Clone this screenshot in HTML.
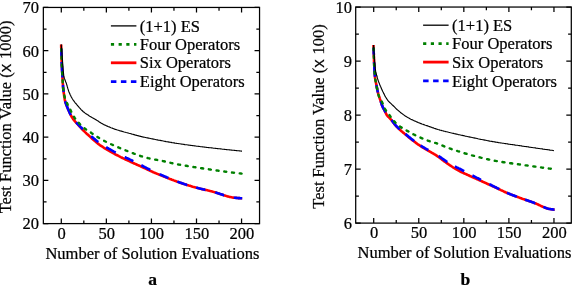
<!DOCTYPE html>
<html><head><meta charset="utf-8"><title>Figure</title>
<style>
html,body{margin:0;padding:0;background:#fff;}
svg{display:block;will-change:transform;font-family:"Liberation Serif",serif;font-size:16.5px;fill:#000;}
text{stroke:#000;stroke-width:0.22px;}
</style></head>
<body>
<svg width="572" height="289" viewBox="0 0 572 289">
<rect width="572" height="289" fill="#fff"/>
<g>
<rect x="43.35" y="7.45" width="216.20" height="216.15" fill="none" stroke="#000" stroke-width="1.25"/>
<text x="39.1" y="229.4" text-anchor="end">20</text>
<text x="39.1" y="186.2" text-anchor="end">30</text>
<text x="39.1" y="142.9" text-anchor="end">40</text>
<text x="39.1" y="99.7" text-anchor="end">50</text>
<text x="39.1" y="56.5" text-anchor="end">60</text>
<text x="39.1" y="13.2" text-anchor="end">70</text>
<path d="M61.30,223.6v-5M61.30,7.45v5M83.83,223.6v-3.2M83.83,7.45v3.2M106.36,223.6v-5M106.36,7.45v5M128.90,223.6v-3.2M128.90,7.45v3.2M151.43,223.6v-5M151.43,7.45v5M173.96,223.6v-3.2M173.96,7.45v3.2M196.50,223.6v-5M196.50,7.45v5M219.03,223.6v-3.2M219.03,7.45v3.2M241.56,223.6v-5M241.56,7.45v5M43.35,223.60h5M259.55,223.60h-5M43.35,201.98h3.2M259.55,201.98h-3.2M43.35,180.37h5M259.55,180.37h-5M43.35,158.75h3.2M259.55,158.75h-3.2M43.35,137.14h5M259.55,137.14h-5M43.35,115.52h3.2M259.55,115.52h-3.2M43.35,93.91h5M259.55,93.91h-5M43.35,72.29h3.2M259.55,72.29h-3.2M43.35,50.68h5M259.55,50.68h-5M43.35,29.06h3.2M259.55,29.06h-3.2M43.35,7.45h5M259.55,7.45h-5" stroke="#000" stroke-width="1.25" fill="none"/>
<text x="61.6" y="238.5" text-anchor="middle">0</text>
<text x="106.7" y="238.5" text-anchor="middle">50</text>
<text x="151.7" y="238.5" text-anchor="middle">100</text>
<text x="196.8" y="238.5" text-anchor="middle">150</text>
<text x="241.9" y="238.5" text-anchor="middle">200</text>
<text x="152.4" y="258.8" text-anchor="middle">Number of Solution Evaluations</text>
<text x="152.6" y="284.5" text-anchor="middle" font-weight="bold" font-size="17.5">a</text>
<text transform="translate(10.9,116.9) rotate(-90)" text-anchor="middle">Test Function Value (<tspan font-family="Liberation Sans, sans-serif" font-size="17">x </tspan>1000)</text>
<path d="M61.2,44.4 L61.2,45.4 L61.2,46.4 L61.2,47.4 L61.3,48.4 L61.3,49.4 L61.3,50.4 L61.3,51.4 L61.4,52.4 L61.4,53.4 L61.4,54.4 L61.5,55.4 L61.5,56.4 L61.5,57.4 L61.5,58.4 L61.6,59.4 L61.6,60.4 L61.7,61.4 L61.7,62.4 L61.7,63.4 L61.8,64.4 L61.8,65.4 L61.9,66.4 L61.9,67.4 L62.0,68.4 L62.0,69.4 L62.1,70.4 L62.1,71.4 L62.2,72.4 L62.3,73.4 L62.3,74.4 L62.4,75.4 L62.4,76.4 L62.5,77.4 L62.5,78.4 L62.6,79.4 L62.6,80.4 L62.7,81.4 L62.7,82.4 L62.8,83.4 L62.9,84.4 L63.0,85.4 L63.0,86.4 L63.1,87.4 L63.2,88.3 L63.3,89.3 L63.4,90.3 L63.6,91.3 L63.7,92.3 L63.8,93.3 L64.0,94.3 L64.1,95.3 L64.2,96.3 L64.4,97.3 L64.6,98.3 L64.7,99.2 L64.9,100.2 L65.1,101.2 L65.4,102.2 L65.7,103.1 L66.1,104.1 L66.4,105.0 L66.8,105.9 L67.1,106.9 L67.5,107.8 L67.9,108.7 L68.3,109.6 L68.7,110.5 L69.1,111.5 L69.5,112.4 L69.9,113.3 L70.3,114.2 L70.8,115.1 L71.3,116.0 L71.7,116.8 L72.3,117.7 L72.8,118.6 L73.4,119.4 L74.0,120.2 L74.6,120.9 L75.2,121.7 L75.9,122.4 L76.6,123.2 L77.3,123.9 L78.0,124.6 L78.6,125.4 L79.3,126.1 L80.0,126.9 L80.7,127.6 L81.3,128.3 L82.0,129.1 L82.7,129.8 L83.4,130.5 L84.1,131.2 L84.8,131.9 L85.6,132.6 L86.3,133.3 L87.0,134.0 L87.8,134.6 L88.5,135.3 L89.3,136.0 L90.0,136.6 L90.7,137.3 L91.5,138.0 L92.2,138.7 L93.0,139.4 L93.7,140.0 L94.5,140.7 L95.2,141.3 L96.0,142.0 L96.8,142.6 L97.5,143.3 L98.3,143.9 L99.1,144.5 L99.9,145.1 L100.7,145.6 L101.5,146.2 L102.4,146.7 L103.2,147.3 L104.0,147.8 L104.9,148.4 L105.7,148.9 L106.6,149.4 L107.4,149.9 L108.3,150.4 L109.2,150.9 L110.0,151.4 L110.9,151.9 L111.8,152.4 L112.7,152.9 L113.6,153.4 L114.5,153.8 L115.3,154.3 L116.2,154.8 L117.1,155.2 L118.0,155.7 L118.9,156.2 L119.8,156.6 L120.7,157.1 L121.6,157.5 L122.5,158.0 L123.4,158.4 L124.3,158.8 L125.2,159.3 L126.1,159.7 L127.0,160.1 L127.9,160.5 L128.8,160.9 L129.7,161.4 L130.6,161.8 L131.5,162.2 L132.4,162.6 L133.3,163.0 L134.3,163.5 L135.2,163.9 L136.1,164.3 L137.0,164.7 L137.9,165.1 L138.8,165.5 L139.7,165.9 L140.6,166.3 L141.5,166.7 L142.5,167.2 L143.4,167.6 L144.3,168.0 L145.2,168.4 L146.1,168.9 L147.0,169.3 L147.9,169.7 L148.8,170.1 L149.7,170.6 L150.6,171.0 L151.5,171.4 L152.4,171.8 L153.3,172.2 L154.3,172.6 L155.2,173.0 L156.1,173.4 L157.0,173.8 L158.0,174.1 L158.9,174.5 L159.8,174.9 L160.7,175.3 L161.7,175.6 L162.6,176.0 L163.5,176.4 L164.4,176.8 L165.4,177.1 L166.3,177.5 L167.2,177.9 L168.2,178.2 L169.1,178.6 L170.0,179.0 L171.0,179.3 L171.9,179.7 L172.9,180.0 L173.8,180.4 L174.7,180.7 L175.7,181.1 L176.6,181.4 L177.6,181.7 L178.5,182.1 L179.4,182.4 L180.4,182.7 L181.3,183.1 L182.3,183.4 L183.2,183.7 L184.2,184.0 L185.1,184.3 L186.1,184.6 L187.0,184.9 L188.0,185.2 L188.9,185.5 L189.9,185.8 L190.8,186.1 L191.8,186.4 L192.8,186.7 L193.7,186.9 L194.7,187.2 L195.6,187.5 L196.6,187.7 L197.6,188.0 L198.6,188.2 L199.5,188.4 L200.5,188.7 L201.5,188.9 L202.4,189.2 L203.4,189.4 L204.4,189.6 L205.4,189.9 L206.3,190.1 L207.3,190.3 L208.3,190.6 L209.3,190.8 L210.2,191.1 L211.2,191.3 L212.2,191.5 L213.1,191.8 L214.1,192.1 L215.1,192.3 L216.0,192.6 L217.0,192.9 L217.9,193.2 L218.9,193.5 L219.9,193.9 L220.8,194.2 L221.8,194.5 L222.7,194.8 L223.7,195.2 L224.7,195.5 L225.6,195.8 L226.6,196.1 L227.5,196.4 L228.5,196.6 L229.5,196.9 L230.4,197.1 L231.4,197.3 L232.4,197.5 L233.3,197.6 L234.3,197.7 L235.3,197.8 L236.3,197.9 L237.3,198.0 L238.3,198.1 L239.3,198.1 L240.3,198.2 L241.3,198.2 L242.2,198.2" fill="none" stroke="#ff0000" stroke-width="2.6"/>
<path d="M61.3,48.7 L61.3,49.1 L61.3,49.6 L61.3,50.1 L61.3,50.6 L61.3,51.1 L61.3,51.6 L61.4,52.1 L61.4,52.6 L61.4,53.1 L61.4,53.6 L61.4,54.1 L61.4,54.6 L61.4,55.1 L61.5,55.6 L61.5,56.1 L61.5,56.6 M61.7,62.1 L61.7,62.6 L61.7,63.1 L61.7,63.6 L61.8,64.1 L61.8,64.6 L61.8,65.1 L61.8,65.6 L61.9,66.1 L61.9,66.6 L61.9,67.1 L61.9,67.6 L62.0,68.1 L62.0,68.6 L62.0,69.1 L62.0,69.6 L62.1,70.1 L62.1,70.6 L62.1,71.1 L62.2,71.6 L62.2,72.1 L62.2,72.6 L62.2,73.1 L62.3,73.6 L62.3,74.1 L62.3,74.6 L62.4,75.1 L62.4,75.6 L62.4,76.1 L62.4,76.6 L62.5,77.1 L62.5,77.6 M62.9,85.1 L63.0,85.6 L63.0,86.1 L63.1,86.6 L63.1,87.1 L63.1,87.6 L63.2,88.1 L63.2,88.6 L63.3,89.1 L63.3,89.6 L63.4,90.1 L63.5,90.6 L63.5,91.1 L63.6,91.6 L63.7,92.1 M65.1,101.2 L65.3,101.7 L65.4,102.2 L65.6,102.6 L65.7,103.1 L65.9,103.6 L66.1,104.1 L66.2,104.5 L66.4,105.0 L66.6,105.5 L66.8,105.9 L67.0,106.4 L67.1,106.9 L67.3,107.3 L67.5,107.8 L67.7,108.2 L67.9,108.7 L68.1,109.2 L68.3,109.6 L68.5,110.1 L68.7,110.5 L68.9,111.0 L69.1,111.5 L69.3,111.9 L69.5,112.4 L69.7,112.8 L69.9,113.3 L70.1,113.7 L70.3,114.2 L70.6,114.6 L70.8,115.1 M76.1,122.4 L76.4,122.7 L76.8,123.1 L77.1,123.4 L77.4,123.8 L77.8,124.1 L78.1,124.4 L78.5,124.8 L78.8,125.1 L79.2,125.5 L79.5,125.8 L79.8,126.2 L80.2,126.5 L80.5,126.9 L80.8,127.2 L81.2,127.5 L81.5,127.9 L81.9,128.2 L82.2,128.6 L82.5,128.9 L82.9,129.2 M91.1,136.2 L91.5,136.5 L91.9,136.8 L92.2,137.1 L92.6,137.4 L93.0,137.7 L93.3,138.0 L93.7,138.3 L94.1,138.7 L94.5,139.0 L94.9,139.3 L95.2,139.6 L95.6,139.9 L96.0,140.3 L96.4,140.6 L96.8,140.9 L97.1,141.2 L97.5,141.5 L97.9,141.8 L98.3,142.1 M106.1,147.2 L106.6,147.5 L107.0,147.7 L107.4,148.0 L107.9,148.2 L108.3,148.5 L108.7,148.7 L109.2,148.9 L109.6,149.2 L110.0,149.4 L110.5,149.7 L110.9,149.9 L111.4,150.2 L111.8,150.4 L112.2,150.6 L112.7,150.9 L113.1,151.1 L113.6,151.4 L114.0,151.6 L114.5,151.8 L114.9,152.1 L115.3,152.3 L115.8,152.5 M124.7,157.1 L125.2,157.3 L125.6,157.5 L126.1,157.7 L126.5,157.9 L127.0,158.1 L127.4,158.3 L127.9,158.5 L128.3,158.7 L128.8,158.9 L129.3,159.2 L129.7,159.4 L130.2,159.6 L130.6,159.8 L131.1,160.1 L131.5,160.3 L132.0,160.5 L132.4,160.8 L132.9,161.0 L133.3,161.2 M141.3,165.3 L141.8,165.5 L142.2,165.7 L142.7,166.0 L143.1,166.2 L143.6,166.5 L144.0,166.7 L144.5,166.9 L144.9,167.2 L145.4,167.4 L145.9,167.6 L146.3,167.9 L146.8,168.1 L147.2,168.3 L147.7,168.6 L148.1,168.8 L148.6,169.0 L149.0,169.2 L149.5,169.5 L149.9,169.7 L150.4,169.9 M159.6,174.2 L160.0,174.4 L160.5,174.6 L161.0,174.8 L161.4,175.0 L161.9,175.2 L162.4,175.4 L162.8,175.6 L163.3,175.8 L163.7,176.0 L164.2,176.2 L164.7,176.4 L165.1,176.6 L165.6,176.8 L166.1,177.0 L166.5,177.2 L167.0,177.4 L167.5,177.6 L167.9,177.8 L168.4,178.0 M177.3,181.6 L177.8,181.8 L178.3,181.9 L178.7,182.1 L179.2,182.3 L179.7,182.5 L180.2,182.7 L180.6,182.8 L181.1,183.0 L181.6,183.1 L182.0,183.3 L182.5,183.5 L183.0,183.6 L183.5,183.8 L183.9,183.9 L184.4,184.1 L184.9,184.3 L185.4,184.4 L185.8,184.6 L186.3,184.7 L186.8,184.9 L187.3,185.0 M196.1,187.6 L196.6,187.7 L197.1,187.8 L197.6,188.0 L198.1,188.1 L198.6,188.2 L199.0,188.3 L199.5,188.4 L200.0,188.6 L200.5,188.7 L201.0,188.8 L201.5,188.9 L202.0,189.0 L202.4,189.2 L202.9,189.3 L203.4,189.4 L203.9,189.5 L204.4,189.6 L204.9,189.8 L205.4,189.9 M215.1,192.3 L215.5,192.5 L216.0,192.6 L216.5,192.8 L217.0,192.9 L217.5,193.1 L217.9,193.2 L218.4,193.4 L218.9,193.5 L219.4,193.7 L219.9,193.9 L220.3,194.0 L220.8,194.2 L221.3,194.3 L221.8,194.5 L222.3,194.7 L222.7,194.8 L223.2,195.0 L223.7,195.2 L224.2,195.3 M233.8,197.7 L234.3,197.7 L234.8,197.8 L235.3,197.8 L235.8,197.9 L236.3,197.9 L236.8,198.0 L237.3,198.0 L237.8,198.0 L238.3,198.1 L238.8,198.1 L239.3,198.1 L239.8,198.1 L240.3,198.2 L240.8,198.2 L241.3,198.2 L241.8,198.2 L242.2,198.2" fill="none" stroke="#0000ff" stroke-width="2.6"/>
<path d="M61.2,44.4 L61.2,45.4 L61.2,46.4 L61.2,47.4 L61.3,48.4 L61.3,49.4 L61.3,50.4 L61.3,51.4 L61.4,52.4 L61.4,53.4 L61.4,54.4 L61.5,55.4 L61.5,56.4 L61.5,57.4 L61.5,58.4 L61.6,59.4 L61.6,60.4 L61.7,61.4 L61.7,62.4 L61.7,63.4 L61.8,64.4 L61.8,65.4 L61.9,66.4 L61.9,67.4 L62.0,68.4 L62.0,69.4 L62.1,70.4 L62.1,71.4 L62.2,72.4 L62.3,73.4 L62.3,74.4 L62.4,75.4 L62.4,76.4 L62.5,77.4 L62.5,78.4 L62.6,79.4 L62.6,80.4 L62.7,81.4 L62.7,82.4 L62.8,83.4 L62.9,84.4 L62.9,85.4 L63.0,86.4 L63.1,87.4 L63.2,88.3 L63.3,89.3 L63.5,90.3 L63.6,91.3 L63.7,92.3 L63.9,93.3 L64.1,94.3 L64.3,95.3 L64.5,96.3 L64.7,97.2 L65.0,98.2 L65.4,99.1 L65.7,100.1 L66.1,101.0 L66.5,101.9 L66.9,102.8 L67.3,103.7 L67.7,104.6 L68.2,105.5 L68.7,106.4 L69.1,107.3 L69.6,108.2 L70.0,109.1 L70.5,110.0 L70.9,110.9 L71.3,111.8 L71.8,112.7 L72.2,113.6 L72.7,114.5 L73.1,115.4 L73.6,116.2 L74.2,117.1 L74.7,117.9 L75.3,118.7 L75.9,119.5 L76.5,120.3 L77.2,121.1 L77.8,121.8 L78.5,122.6 L79.2,123.3 L79.8,124.0 L80.5,124.8 L81.3,125.5 L82.0,126.2 L82.7,126.8 L83.5,127.5 L84.3,128.1 L85.0,128.7 L85.8,129.3 L86.7,129.9 L87.5,130.4 L88.3,131.0 L89.2,131.5 L90.0,132.1 L90.9,132.6 L91.7,133.2 L92.5,133.7 L93.4,134.3 L94.2,134.8 L95.0,135.4 L95.9,135.9 L96.7,136.5 L97.6,137.0 L98.4,137.6 L99.3,138.1 L100.1,138.6 L101.0,139.1 L101.9,139.6 L102.7,140.1 L103.6,140.6 L104.5,141.0 L105.4,141.5 L106.3,141.9 L107.1,142.4 L108.0,142.8 L108.9,143.2 L109.8,143.7 L110.8,144.1 L111.7,144.5 L112.6,144.9 L113.5,145.3 L114.4,145.7 L115.3,146.1 L116.3,146.5 L117.2,146.9 L118.1,147.3 L119.0,147.7 L120.0,148.1 L120.9,148.4 L121.8,148.8 L122.7,149.2 L123.7,149.6 L124.6,149.9 L125.5,150.3 L126.5,150.7 L127.4,151.0 L128.3,151.4 L129.3,151.8 L130.2,152.1 L131.1,152.5 L132.1,152.9 L133.0,153.2 L133.9,153.6 L134.9,153.9 L135.8,154.3 L136.8,154.6 L137.7,155.0 L138.6,155.3 L139.6,155.6 L140.5,156.0 L141.5,156.3 L142.4,156.6 L143.4,156.9 L144.3,157.2 L145.3,157.4 L146.3,157.7 L147.2,157.9 L148.2,158.2 L149.2,158.4 L150.1,158.6 L151.1,158.8 L152.1,159.0 L153.1,159.2 L154.1,159.4 L155.0,159.6 L156.0,159.7 L157.0,159.9 L158.0,160.1 L159.0,160.3 L160.0,160.5 L161.0,160.7 L161.9,160.9 L162.9,161.1 L163.9,161.3 L164.9,161.5 L165.8,161.8 L166.8,162.0 L167.8,162.3 L168.7,162.5 L169.7,162.7 L170.7,162.9 L171.7,163.1 L172.7,163.3 L173.6,163.5 L174.6,163.7 L175.6,163.9 L176.6,164.1 L177.6,164.3 L178.5,164.5 L179.5,164.6 L180.5,164.8 L181.5,165.0 L182.5,165.2 L183.5,165.3 L184.5,165.5 L185.4,165.7 L186.4,165.8 L187.4,166.0 L188.4,166.2 L189.4,166.3 L190.4,166.5 L191.4,166.7 L192.4,166.8 L193.3,167.0 L194.3,167.1 L195.3,167.3 L196.3,167.4 L197.3,167.6 L198.3,167.7 L199.3,167.9 L200.3,168.0 L201.2,168.2 L202.2,168.3 L203.2,168.5 L204.2,168.6 L205.2,168.8 L206.2,168.9 L207.2,169.1 L208.2,169.2 L209.2,169.4 L210.1,169.5 L211.1,169.6 L212.1,169.8 L213.1,169.9 L214.1,170.1 L215.1,170.2 L216.1,170.4 L217.1,170.5 L218.1,170.6 L219.1,170.8 L220.0,170.9 L221.0,171.0 L222.0,171.2 L223.0,171.3 L224.0,171.4 L225.0,171.6 L226.0,171.7 L227.0,171.8 L228.0,171.9 L229.0,172.1 L230.0,172.2 L231.0,172.3 L231.9,172.5 L232.9,172.6 L233.9,172.7 L234.9,172.8 L235.9,172.9 L236.9,173.1 L237.9,173.2 L238.9,173.3 L239.9,173.4 L240.9,173.5 L241.6,173.6" fill="none" stroke="#008000" stroke-width="2.4" stroke-linecap="round" stroke-dasharray="2.1 5.7" stroke-dashoffset="3.25"/>
<path d="M61.2,44.4 L61.3,45.4 L61.4,46.4 L61.5,47.4 L61.5,48.4 L61.6,49.4 L61.7,50.4 L61.8,51.4 L61.9,52.4 L62.0,53.4 L62.0,54.4 L62.1,55.4 L62.2,56.4 L62.2,57.4 L62.3,58.4 L62.4,59.4 L62.5,60.4 L62.5,61.3 L62.6,62.3 L62.7,63.3 L62.7,64.3 L62.8,65.3 L62.9,66.3 L63.0,67.3 L63.0,68.3 L63.1,69.3 L63.2,70.4 L63.3,71.4 L63.4,72.4 L63.5,73.3 L63.6,74.3 L63.7,75.3 L63.8,76.3 L64.1,77.2 L64.3,78.2 L64.7,79.1 L65.0,80.1 L65.4,81.0 L65.8,82.0 L66.2,82.9 L66.5,83.8 L66.8,84.8 L67.1,85.8 L67.3,86.7 L67.6,87.7 L67.9,88.7 L68.2,89.6 L68.5,90.6 L68.8,91.5 L69.2,92.4 L69.6,93.3 L70.0,94.3 L70.4,95.2 L70.9,96.1 L71.3,97.0 L71.8,97.8 L72.3,98.7 L72.8,99.5 L73.4,100.4 L74.0,101.2 L74.6,102.0 L75.2,102.8 L75.9,103.5 L76.5,104.3 L77.2,105.1 L77.8,105.8 L78.5,106.6 L79.1,107.4 L79.8,108.1 L80.5,108.9 L81.1,109.6 L81.8,110.3 L82.6,111.0 L83.3,111.7 L84.1,112.3 L84.8,112.9 L85.6,113.5 L86.4,114.0 L87.3,114.6 L88.1,115.1 L89.0,115.7 L89.8,116.2 L90.7,116.7 L91.6,117.2 L92.4,117.7 L93.3,118.2 L94.2,118.7 L95.1,119.2 L95.9,119.7 L96.8,120.3 L97.6,120.8 L98.5,121.3 L99.3,121.9 L100.2,122.4 L101.0,122.9 L101.9,123.4 L102.8,123.9 L103.6,124.4 L104.5,124.9 L105.4,125.3 L106.3,125.7 L107.2,126.1 L108.1,126.5 L109.1,126.9 L110.0,127.3 L110.9,127.7 L111.9,128.0 L112.8,128.4 L113.7,128.7 L114.7,129.1 L115.6,129.4 L116.6,129.7 L117.5,130.0 L118.5,130.3 L119.4,130.6 L120.4,130.9 L121.4,131.1 L122.3,131.4 L123.3,131.7 L124.2,132.0 L125.2,132.2 L126.2,132.5 L127.1,132.7 L128.1,133.0 L129.1,133.3 L130.0,133.5 L131.0,133.8 L132.0,134.1 L132.9,134.3 L133.9,134.6 L134.9,134.9 L135.8,135.1 L136.8,135.4 L137.8,135.6 L138.7,135.9 L139.7,136.1 L140.7,136.4 L141.6,136.6 L142.6,136.9 L143.6,137.1 L144.5,137.3 L145.5,137.5 L146.5,137.7 L147.5,137.9 L148.5,138.1 L149.4,138.3 L150.4,138.5 L151.4,138.7 L152.4,138.9 L153.4,139.1 L154.4,139.3 L155.3,139.5 L156.3,139.7 L157.3,139.9 L158.3,140.1 L159.3,140.2 L160.2,140.4 L161.2,140.6 L162.2,140.8 L163.2,141.0 L164.2,141.2 L165.1,141.4 L166.1,141.6 L167.1,141.7 L168.1,141.9 L169.1,142.1 L170.1,142.3 L171.1,142.4 L172.0,142.6 L173.0,142.7 L174.0,142.9 L175.0,143.1 L176.0,143.2 L177.0,143.4 L178.0,143.5 L179.0,143.7 L179.9,143.8 L180.9,144.0 L181.9,144.1 L182.9,144.3 L183.9,144.4 L184.9,144.6 L185.9,144.7 L186.9,144.8 L187.9,145.0 L188.9,145.1 L189.8,145.3 L190.8,145.4 L191.8,145.5 L192.8,145.6 L193.8,145.8 L194.8,145.9 L195.8,146.0 L196.8,146.2 L197.8,146.3 L198.8,146.4 L199.8,146.5 L200.8,146.7 L201.7,146.8 L202.7,146.9 L203.7,147.0 L204.7,147.1 L205.7,147.2 L206.7,147.4 L207.7,147.5 L208.7,147.6 L209.7,147.7 L210.7,147.8 L211.7,147.9 L212.7,148.0 L213.7,148.2 L214.7,148.3 L215.7,148.4 L216.6,148.5 L217.6,148.6 L218.6,148.7 L219.6,148.8 L220.6,148.9 L221.6,149.0 L222.6,149.2 L223.6,149.3 L224.6,149.4 L225.6,149.5 L226.6,149.6 L227.6,149.7 L228.6,149.8 L229.6,149.9 L230.6,150.0 L231.6,150.1 L232.6,150.2 L233.6,150.3 L234.5,150.4 L235.5,150.5 L236.5,150.6 L237.5,150.7 L238.5,150.8 L239.5,150.9 L240.5,151.0 L241.5,151.1 L242.0,151.1" fill="none" stroke="#000" stroke-width="1.15"/>
<path d="M110.9,25.9H136.4" stroke="#000" stroke-width="1.3"/>
<path d="M110.9,44.4H136.4" stroke="#008000" stroke-width="2.8" stroke-dasharray="3.2 4.5"/>
<path d="M110.9,62.8H136.4" stroke="#ff0000" stroke-width="2.8"/>
<path d="M110.9,81.6H136.4" stroke="#0000ff" stroke-width="2.8" stroke-dasharray="5.5 4.5"/>
<text x="139.8" y="31.5">(1+1) ES</text>
<text x="139.8" y="50.0">Four Operators</text>
<text x="139.8" y="68.4">Six Operators</text>
<text x="139.8" y="87.2">Eight Operators</text>
</g>
<g>
<rect x="355.7" y="7.05" width="215.60" height="216.05" fill="none" stroke="#000" stroke-width="1.25"/>
<text x="352.0" y="228.9" text-anchor="end">6</text>
<text x="352.0" y="174.9" text-anchor="end">7</text>
<text x="352.0" y="120.9" text-anchor="end">8</text>
<text x="352.0" y="66.9" text-anchor="end">9</text>
<text x="352.0" y="12.9" text-anchor="end">10</text>
<path d="M373.70,223.1v-5M373.70,7.05v5M396.23,223.1v-3.2M396.23,7.05v3.2M418.76,223.1v-5M418.76,7.05v5M441.30,223.1v-3.2M441.30,7.05v3.2M463.83,223.1v-5M463.83,7.05v5M486.36,223.1v-3.2M486.36,7.05v3.2M508.89,223.1v-5M508.89,7.05v5M531.43,223.1v-3.2M531.43,7.05v3.2M553.96,223.1v-5M553.96,7.05v5M355.7,223.10h5M571.3,223.10h-5M355.7,196.09h3.2M571.3,196.09h-3.2M355.7,169.09h5M571.3,169.09h-5M355.7,142.08h3.2M571.3,142.08h-3.2M355.7,115.08h5M571.3,115.08h-5M355.7,88.07h3.2M571.3,88.07h-3.2M355.7,61.06h5M571.3,61.06h-5M355.7,34.06h3.2M571.3,34.06h-3.2M355.7,7.05h5M571.3,7.05h-5" stroke="#000" stroke-width="1.25" fill="none"/>
<text x="374.0" y="237.6" text-anchor="middle">0</text>
<text x="419.1" y="237.6" text-anchor="middle">50</text>
<text x="464.1" y="237.6" text-anchor="middle">100</text>
<text x="509.2" y="237.6" text-anchor="middle">150</text>
<text x="554.3" y="237.6" text-anchor="middle">200</text>
<text x="464.5" y="257.9" text-anchor="middle">Number of Solution Evaluations</text>
<text x="465.4" y="284.5" text-anchor="middle" font-weight="bold" font-size="17.5">b</text>
<text transform="translate(324.1,116.5) rotate(-90)" text-anchor="middle">Test Function Value (<tspan font-family="Liberation Sans, sans-serif" font-size="17">x </tspan>100)</text>
<path d="M373.5,45.0 L373.5,46.0 L373.5,47.0 L373.6,48.0 L373.6,49.0 L373.6,50.0 L373.7,51.0 L373.7,52.0 L373.7,53.0 L373.8,54.0 L373.8,55.0 L373.8,56.0 L373.9,57.0 L373.9,58.0 L374.0,59.0 L374.0,60.0 L374.0,61.0 L374.1,62.0 L374.1,63.0 L374.2,64.0 L374.2,65.0 L374.3,66.0 L374.3,67.0 L374.4,68.0 L374.4,69.0 L374.5,70.0 L374.5,71.0 L374.6,72.0 L374.7,73.0 L374.7,74.0 L374.8,75.0 L374.9,76.0 L375.0,77.0 L375.1,78.0 L375.2,78.9 L375.4,79.9 L375.6,80.9 L375.8,81.9 L376.0,82.9 L376.2,83.9 L376.4,84.8 L376.6,85.8 L376.7,86.8 L376.9,87.8 L377.1,88.8 L377.3,89.8 L377.5,90.7 L377.7,91.7 L378.0,92.7 L378.2,93.6 L378.5,94.6 L378.8,95.5 L379.1,96.5 L379.4,97.5 L379.7,98.4 L380.1,99.4 L380.4,100.3 L380.7,101.3 L381.0,102.2 L381.3,103.2 L381.6,104.1 L381.9,105.1 L382.3,106.0 L382.7,106.9 L383.1,107.8 L383.6,108.7 L384.1,109.6 L384.5,110.5 L385.0,111.4 L385.4,112.3 L385.8,113.2 L386.3,114.1 L386.8,115.0 L387.3,115.8 L388.0,116.5 L388.7,117.2 L389.4,117.9 L390.1,118.6 L390.8,119.4 L391.5,120.1 L392.1,120.9 L392.7,121.7 L393.3,122.5 L393.9,123.3 L394.5,124.1 L395.1,124.9 L395.8,125.6 L396.4,126.4 L397.1,127.1 L397.8,127.8 L398.6,128.5 L399.3,129.2 L400.0,129.9 L400.8,130.5 L401.5,131.2 L402.3,131.8 L403.0,132.5 L403.8,133.1 L404.6,133.8 L405.4,134.4 L406.1,135.0 L406.9,135.7 L407.7,136.3 L408.4,137.0 L409.2,137.6 L410.0,138.2 L410.8,138.9 L411.5,139.5 L412.3,140.1 L413.1,140.7 L413.9,141.3 L414.7,141.9 L415.5,142.5 L416.3,143.1 L417.1,143.7 L417.9,144.3 L418.8,144.8 L419.6,145.4 L420.4,146.0 L421.3,146.5 L422.1,147.1 L422.9,147.6 L423.8,148.1 L424.7,148.6 L425.5,149.1 L426.4,149.6 L427.3,150.1 L428.1,150.6 L429.0,151.1 L429.9,151.6 L430.8,152.1 L431.6,152.6 L432.5,153.1 L433.4,153.6 L434.2,154.1 L435.1,154.6 L435.9,155.1 L436.7,155.7 L437.6,156.3 L438.4,156.8 L439.2,157.4 L440.0,158.0 L440.8,158.6 L441.6,159.2 L442.4,159.9 L443.2,160.5 L444.0,161.1 L444.8,161.7 L445.6,162.3 L446.4,162.8 L447.2,163.4 L448.0,164.0 L448.9,164.5 L449.7,165.1 L450.5,165.6 L451.4,166.2 L452.2,166.8 L453.0,167.3 L453.9,167.8 L454.7,168.4 L455.6,168.9 L456.4,169.4 L457.3,169.9 L458.2,170.4 L459.1,170.9 L459.9,171.3 L460.8,171.8 L461.7,172.2 L462.6,172.6 L463.5,173.0 L464.5,173.5 L465.4,173.9 L466.3,174.3 L467.2,174.7 L468.1,175.1 L469.0,175.5 L469.9,176.0 L470.8,176.4 L471.7,176.8 L472.7,177.2 L473.6,177.6 L474.5,178.0 L475.4,178.4 L476.3,178.8 L477.2,179.2 L478.1,179.7 L479.0,180.1 L480.0,180.5 L480.9,180.9 L481.8,181.3 L482.7,181.7 L483.6,182.1 L484.5,182.5 L485.4,182.9 L486.3,183.3 L487.3,183.8 L488.2,184.2 L489.1,184.6 L490.0,185.0 L490.9,185.4 L491.8,185.8 L492.7,186.2 L493.6,186.6 L494.5,187.0 L495.4,187.5 L496.4,187.9 L497.3,188.3 L498.2,188.8 L499.1,189.2 L500.0,189.6 L500.9,190.1 L501.8,190.5 L502.7,190.9 L503.6,191.3 L504.5,191.8 L505.4,192.2 L506.3,192.6 L507.2,193.0 L508.1,193.4 L509.1,193.7 L510.0,194.1 L510.9,194.5 L511.9,194.8 L512.8,195.2 L513.7,195.6 L514.7,195.9 L515.6,196.3 L516.5,196.6 L517.5,196.9 L518.4,197.3 L519.4,197.6 L520.3,198.0 L521.2,198.3 L522.2,198.7 L523.1,199.0 L524.1,199.3 L525.0,199.7 L526.0,200.0 L526.9,200.3 L527.8,200.6 L528.8,201.0 L529.7,201.3 L530.7,201.6 L531.6,201.9 L532.6,202.3 L533.5,202.6 L534.4,203.0 L535.4,203.3 L536.3,203.7 L537.2,204.1 L538.1,204.5 L539.0,205.0 L539.9,205.4 L540.8,205.8 L541.7,206.3 L542.7,206.7 L543.6,207.0 L544.5,207.4 L545.4,207.8 L546.4,208.2 L547.3,208.5 L548.3,208.7 L549.3,208.9 L550.2,209.1 L551.2,209.3 L552.2,209.4 L553.2,209.5 L554.2,209.6 L554.6,209.6" fill="none" stroke="#ff0000" stroke-width="2.6"/>
<path d="M373.6,47.7 L373.6,48.2 L373.6,48.7 L373.6,49.2 L373.6,49.7 L373.6,50.2 L373.7,50.7 L373.7,51.2 L373.7,51.7 L373.7,52.2 L373.7,52.7 L373.7,53.2 L373.8,53.7 L373.8,54.2 L373.8,54.7 M374.1,62.2 L374.1,62.7 L374.1,63.2 L374.2,63.7 L374.2,64.2 L374.2,64.7 L374.2,65.2 L374.3,65.7 L374.3,66.2 L374.3,66.7 L374.3,67.2 L374.4,67.7 L374.4,68.2 L374.4,68.7 L374.4,69.2 L374.5,69.7 L374.5,70.2 L374.5,70.7 L374.6,71.2 L374.6,71.7 L374.6,72.2 L374.7,72.7 L374.7,73.2 L374.7,73.7 L374.8,74.2 L374.8,74.7 L374.8,75.2 L374.9,75.7 L374.9,76.2 L375.0,76.7 M376.4,85.0 L376.5,85.5 L376.6,86.0 L376.7,86.5 L376.8,87.0 L376.9,87.5 L377.0,88.0 L377.1,88.5 L377.2,89.0 L377.3,89.5 L377.4,89.9 L377.5,90.4 L377.6,90.9 L377.7,91.4 L377.8,91.9 L377.9,92.4 M380.7,101.2 L380.8,101.6 L381.0,102.1 L381.1,102.6 L381.3,103.1 L381.5,103.6 L381.6,104.0 L381.8,104.5 L381.9,105.0 L382.1,105.4 L382.3,105.9 L382.5,106.4 L382.7,106.8 L382.9,107.3 L383.1,107.7 L383.4,108.1 L383.6,108.6 L383.8,109.0 L384.1,109.5 L384.3,109.9 L384.5,110.4 L384.8,110.8 L385.0,111.2 L385.2,111.7 L385.4,112.1 L385.6,112.6 M391.6,120.1 L391.9,120.5 L392.2,120.9 L392.5,121.3 L392.8,121.7 L393.1,122.1 L393.4,122.5 L393.7,122.9 L394.0,123.3 L394.4,123.7 L394.7,124.1 L395.0,124.5 L395.3,124.9 L395.6,125.2 L395.9,125.6 L396.3,126.0 L396.6,126.3 L397.0,126.7 L397.3,127.0 L397.7,127.4 L398.0,127.7 L398.4,128.1 L398.7,128.4 L399.1,128.7 L399.5,129.1 L399.8,129.4 M405.4,134.0 L405.8,134.3 L406.1,134.6 L406.5,134.9 L406.9,135.2 L407.3,135.5 L407.7,135.9 L408.1,136.2 L408.4,136.5 L408.8,136.8 L409.2,137.1 L409.6,137.4 L410.0,137.7 L410.4,138.0 L410.8,138.4 L411.1,138.7 L411.5,139.0 L411.9,139.3 L412.3,139.6 L412.7,139.9 L413.1,140.2 L413.5,140.5 L413.9,140.8 L414.3,141.1 M420.6,145.5 L421.1,145.8 L421.5,146.1 L421.9,146.4 L422.3,146.6 L422.7,146.9 L423.2,147.1 L423.6,147.4 L424.0,147.7 L424.4,147.9 L424.9,148.2 L425.3,148.4 L425.7,148.7 L426.2,148.9 L426.6,149.1 L427.0,149.4 L427.5,149.6 L427.9,149.8 L428.4,150.0 M438.6,155.9 L439.0,156.2 L439.4,156.5 L439.8,156.8 L440.2,157.1 L440.6,157.4 L441.0,157.7 L441.4,157.9 L441.8,158.2 L442.2,158.5 L442.6,158.8 L443.0,159.1 L443.4,159.4 L443.8,159.7 L444.2,159.9 L444.6,160.2 L445.0,160.5 L445.4,160.7 L445.8,161.0 L446.2,161.3 L446.6,161.5 L447.0,161.8 L447.4,162.0 M454.9,166.5 L455.4,166.7 L455.8,166.9 L456.2,167.1 L456.7,167.4 L457.1,167.6 L457.5,167.8 L458.0,168.0 L458.4,168.2 L458.8,168.4 L459.3,168.6 L459.7,168.8 L460.2,169.0 L460.6,169.3 L461.1,169.5 L461.5,169.8 L462.0,170.0 L462.4,170.3 L462.9,170.5 L463.3,170.8 L463.8,171.0 L464.2,171.2 M472.4,175.5 L472.9,175.7 L473.3,176.0 L473.8,176.2 L474.2,176.4 L474.7,176.7 L475.2,176.9 L475.6,177.1 L476.1,177.4 L476.5,177.6 L477.0,177.8 L477.4,178.1 L477.9,178.3 L478.4,178.5 L478.8,178.8 L479.3,179.0 L479.7,179.2 L480.2,179.5 L480.6,179.7 L481.1,179.9 M489.3,184.1 L489.8,184.3 L490.2,184.6 L490.7,184.8 L491.1,185.0 L491.6,185.3 L492.0,185.5 L492.5,185.7 L492.9,186.0 L493.4,186.2 L493.9,186.4 L494.3,186.6 L494.8,186.9 L495.2,187.1 L495.7,187.3 L496.1,187.5 L496.6,187.8 L497.0,188.0 L497.5,188.2 L497.9,188.4 L498.4,188.6 L498.8,188.9 L499.3,189.1 M507.0,192.8 L507.5,193.0 L507.9,193.2 L508.4,193.4 L508.8,193.6 L509.3,193.8 L509.8,194.0 L510.2,194.2 L510.7,194.4 L511.2,194.6 L511.6,194.8 L512.1,194.9 L512.6,195.1 L513.0,195.3 L513.5,195.5 L514.0,195.6 L514.4,195.8 L514.9,196.0 L515.4,196.2 L515.8,196.3 L516.3,196.5 L516.8,196.7 M525.0,199.7 L525.5,199.8 L526.0,200.0 L526.4,200.2 L526.9,200.3 L527.4,200.5 L527.8,200.6 L528.3,200.8 L528.8,201.0 L529.3,201.1 L529.7,201.3 L530.2,201.5 L530.7,201.6 L531.2,201.8 L531.6,201.9 L532.1,202.1 L532.6,202.3 L533.0,202.5 L533.5,202.6 L534.0,202.8 L534.4,203.0 L534.9,203.2 L535.4,203.3 M543.3,206.9 L543.8,207.1 L544.3,207.3 L544.7,207.5 L545.2,207.7 L545.7,207.9 L546.2,208.1 L546.6,208.2 L547.1,208.4 L547.6,208.6 L548.1,208.7 L548.5,208.8 L549.0,208.9 L549.5,209.0 L550.0,209.1 L550.5,209.2 L551.0,209.2 L551.5,209.3 L552.0,209.4 L552.5,209.4 L553.0,209.5 L553.5,209.5 L554.0,209.6 L554.5,209.6" fill="none" stroke="#0000ff" stroke-width="2.6"/>
<path d="M373.5,45.0 L373.5,46.0 L373.5,47.0 L373.6,48.0 L373.6,49.0 L373.6,50.0 L373.7,51.0 L373.7,52.0 L373.7,53.0 L373.8,54.0 L373.8,55.0 L373.8,56.0 L373.9,57.0 L373.9,58.0 L374.0,59.0 L374.0,60.0 L374.0,61.0 L374.1,62.0 L374.1,63.0 L374.2,64.0 L374.2,65.0 L374.3,66.0 L374.3,67.0 L374.4,68.0 L374.4,69.0 L374.5,70.0 L374.5,71.0 L374.6,72.0 L374.7,73.0 L374.7,74.0 L374.8,75.0 L374.9,76.0 L375.0,77.0 L375.1,78.0 L375.2,78.9 L375.4,79.9 L375.6,80.9 L375.8,81.9 L376.0,82.9 L376.2,83.9 L376.4,84.8 L376.6,85.8 L376.7,86.8 L376.9,87.8 L377.1,88.8 L377.3,89.8 L377.5,90.7 L377.7,91.7 L378.0,92.7 L378.2,93.7 L378.4,94.7 L378.7,95.6 L379.0,96.6 L379.3,97.5 L379.7,98.4 L380.2,99.2 L380.8,100.1 L381.4,100.9 L381.9,101.8 L382.3,102.7 L382.7,103.6 L383.1,104.5 L383.4,105.5 L383.8,106.4 L384.2,107.3 L384.6,108.2 L385.1,109.1 L385.6,109.9 L386.2,110.8 L386.7,111.6 L387.3,112.4 L387.9,113.2 L388.6,114.0 L389.2,114.8 L389.8,115.6 L390.4,116.4 L390.9,117.2 L391.5,118.0 L392.1,118.8 L392.8,119.6 L393.4,120.4 L394.1,121.1 L394.7,121.9 L395.4,122.6 L396.2,123.3 L396.9,123.9 L397.7,124.6 L398.4,125.3 L399.2,125.9 L400.0,126.5 L400.8,127.1 L401.6,127.6 L402.5,128.1 L403.3,128.6 L404.2,129.1 L405.1,129.6 L406.0,130.1 L406.8,130.6 L407.7,131.1 L408.6,131.6 L409.4,132.1 L410.3,132.6 L411.2,133.1 L412.1,133.6 L412.9,134.1 L413.8,134.5 L414.7,134.9 L415.6,135.4 L416.5,135.8 L417.4,136.2 L418.3,136.6 L419.3,137.1 L420.2,137.5 L421.1,137.9 L422.0,138.3 L422.9,138.6 L423.9,139.0 L424.8,139.4 L425.7,139.8 L426.7,140.1 L427.6,140.5 L428.5,140.8 L429.5,141.2 L430.4,141.5 L431.4,141.8 L432.3,142.1 L433.3,142.4 L434.2,142.7 L435.2,142.9 L436.2,143.2 L437.1,143.5 L438.1,143.8 L439.0,144.2 L439.9,144.5 L440.9,144.9 L441.8,145.3 L442.7,145.7 L443.6,146.1 L444.5,146.5 L445.5,146.9 L446.4,147.2 L447.3,147.6 L448.3,147.9 L449.2,148.3 L450.2,148.6 L451.1,148.9 L452.0,149.3 L453.0,149.6 L453.9,149.9 L454.9,150.2 L455.8,150.5 L456.8,150.8 L457.7,151.1 L458.7,151.4 L459.7,151.7 L460.6,152.0 L461.6,152.3 L462.5,152.6 L463.5,152.9 L464.4,153.2 L465.4,153.5 L466.4,153.7 L467.3,154.0 L468.3,154.3 L469.3,154.6 L470.2,154.8 L471.2,155.1 L472.1,155.4 L473.1,155.6 L474.1,155.9 L475.0,156.2 L476.0,156.4 L477.0,156.7 L477.9,156.9 L478.9,157.2 L479.9,157.4 L480.9,157.7 L481.8,157.9 L482.8,158.2 L483.8,158.4 L484.7,158.6 L485.7,158.9 L486.7,159.1 L487.7,159.3 L488.6,159.5 L489.6,159.7 L490.6,159.9 L491.6,160.1 L492.6,160.3 L493.5,160.5 L494.5,160.7 L495.5,160.9 L496.5,161.1 L497.5,161.2 L498.4,161.4 L499.4,161.6 L500.4,161.7 L501.4,161.9 L502.4,162.0 L503.4,162.2 L504.4,162.3 L505.4,162.5 L506.3,162.6 L507.3,162.8 L508.3,162.9 L509.3,163.1 L510.3,163.2 L511.3,163.3 L512.3,163.5 L513.3,163.6 L514.3,163.7 L515.3,163.9 L516.3,164.0 L517.3,164.2 L518.2,164.3 L519.2,164.4 L520.2,164.6 L521.2,164.7 L522.2,164.8 L523.2,165.0 L524.2,165.1 L525.2,165.3 L526.2,165.4 L527.2,165.5 L528.1,165.7 L529.1,165.8 L530.1,166.0 L531.1,166.1 L532.1,166.2 L533.1,166.4 L534.1,166.5 L535.1,166.6 L536.1,166.8 L537.1,166.9 L538.1,167.0 L539.0,167.2 L540.0,167.3 L541.0,167.4 L542.0,167.6 L543.0,167.7 L544.0,167.8 L545.0,168.0 L546.0,168.1 L547.0,168.2 L548.0,168.3 L549.0,168.5 L550.0,168.6 L550.9,168.7 L551.9,168.9 L552.9,169.0 L553.9,169.1" fill="none" stroke="#008000" stroke-width="2.4" stroke-linecap="round" stroke-dasharray="2.1 5.7" stroke-dashoffset="4.53"/>
<path d="M373.5,45.0 L373.6,46.0 L373.6,47.0 L373.7,48.0 L373.8,49.0 L373.9,50.0 L373.9,51.0 L374.0,52.0 L374.1,53.0 L374.2,54.0 L374.2,55.0 L374.3,56.0 L374.4,57.0 L374.4,58.0 L374.5,59.0 L374.6,60.0 L374.6,61.0 L374.7,62.0 L374.8,63.0 L374.8,64.0 L374.9,65.0 L375.0,66.0 L375.1,66.9 L375.2,67.9 L375.3,68.9 L375.5,69.9 L375.6,70.9 L375.8,71.9 L376.1,72.9 L376.3,73.8 L376.5,74.8 L376.8,75.8 L377.1,76.7 L377.3,77.7 L377.6,78.7 L377.9,79.6 L378.2,80.6 L378.5,81.5 L378.9,82.4 L379.3,83.4 L379.6,84.3 L380.0,85.2 L380.4,86.2 L380.8,87.1 L381.2,88.0 L381.6,88.9 L382.0,89.8 L382.4,90.7 L382.8,91.6 L383.3,92.5 L383.7,93.4 L384.2,94.3 L384.6,95.2 L385.1,96.1 L385.6,97.0 L386.1,97.8 L386.6,98.7 L387.2,99.5 L387.8,100.3 L388.4,101.1 L389.1,101.8 L389.8,102.5 L390.5,103.2 L391.3,103.9 L392.0,104.6 L392.7,105.3 L393.5,106.0 L394.2,106.7 L394.9,107.4 L395.6,108.1 L396.3,108.8 L397.0,109.5 L397.8,110.1 L398.5,110.8 L399.3,111.4 L400.1,112.1 L400.8,112.7 L401.6,113.3 L402.4,113.9 L403.2,114.5 L404.1,115.1 L404.9,115.7 L405.7,116.2 L406.6,116.8 L407.4,117.3 L408.3,117.8 L409.2,118.2 L410.0,118.7 L410.9,119.2 L411.8,119.6 L412.7,120.0 L413.6,120.5 L414.5,120.9 L415.5,121.3 L416.4,121.7 L417.3,122.1 L418.2,122.5 L419.2,122.9 L420.1,123.2 L421.0,123.6 L421.9,124.0 L422.9,124.3 L423.8,124.6 L424.8,125.0 L425.7,125.3 L426.7,125.6 L427.6,125.9 L428.6,126.3 L429.5,126.6 L430.4,126.9 L431.4,127.2 L432.3,127.6 L433.3,127.9 L434.2,128.3 L435.2,128.6 L436.1,128.9 L437.1,129.2 L438.0,129.5 L439.0,129.8 L439.9,130.1 L440.9,130.3 L441.9,130.6 L442.8,130.8 L443.8,131.1 L444.8,131.3 L445.7,131.6 L446.7,131.8 L447.7,132.0 L448.7,132.3 L449.6,132.5 L450.6,132.8 L451.6,133.0 L452.5,133.2 L453.5,133.4 L454.5,133.7 L455.5,133.9 L456.4,134.1 L457.4,134.3 L458.4,134.6 L459.4,134.8 L460.4,135.0 L461.3,135.2 L462.3,135.4 L463.3,135.6 L464.3,135.8 L465.2,136.1 L466.2,136.3 L467.2,136.5 L468.2,136.7 L469.1,136.9 L470.1,137.1 L471.1,137.3 L472.1,137.5 L473.1,137.7 L474.0,137.9 L475.0,138.1 L476.0,138.3 L477.0,138.5 L478.0,138.8 L478.9,139.0 L479.9,139.2 L480.9,139.4 L481.9,139.5 L482.9,139.7 L483.8,139.9 L484.8,140.1 L485.8,140.3 L486.8,140.5 L487.8,140.7 L488.8,140.9 L489.7,141.1 L490.7,141.2 L491.7,141.4 L492.7,141.6 L493.7,141.8 L494.7,141.9 L495.6,142.1 L496.6,142.3 L497.6,142.4 L498.6,142.6 L499.6,142.7 L500.6,142.9 L501.6,143.0 L502.6,143.2 L503.5,143.3 L504.5,143.5 L505.5,143.6 L506.5,143.8 L507.5,143.9 L508.5,144.1 L509.5,144.2 L510.5,144.4 L511.5,144.5 L512.4,144.6 L513.4,144.8 L514.4,144.9 L515.4,145.1 L516.4,145.2 L517.4,145.3 L518.4,145.5 L519.4,145.6 L520.4,145.8 L521.4,145.9 L522.3,146.1 L523.3,146.2 L524.3,146.4 L525.3,146.5 L526.3,146.6 L527.3,146.8 L528.3,146.9 L529.3,147.1 L530.3,147.2 L531.3,147.4 L532.2,147.5 L533.2,147.7 L534.2,147.8 L535.2,147.9 L536.2,148.1 L537.2,148.2 L538.2,148.4 L539.2,148.5 L540.2,148.7 L541.2,148.8 L542.1,148.9 L543.1,149.1 L544.1,149.2 L545.1,149.4 L546.1,149.5 L547.1,149.6 L548.1,149.8 L549.1,149.9 L550.1,150.1 L551.1,150.2 L552.0,150.3 L553.0,150.5 L553.9,150.6" fill="none" stroke="#000" stroke-width="1.15"/>
<path d="M423.1,25.2H448.6" stroke="#000" stroke-width="1.3"/>
<path d="M423.1,43.699999999999996H448.6" stroke="#008000" stroke-width="2.8" stroke-dasharray="3.2 4.5"/>
<path d="M423.1,62.099999999999994H448.6" stroke="#ff0000" stroke-width="2.8"/>
<path d="M423.1,80.89999999999999H448.6" stroke="#0000ff" stroke-width="2.8" stroke-dasharray="5.5 4.5"/>
<text x="452.1" y="30.8">(1+1) ES</text>
<text x="452.1" y="49.3">Four Operators</text>
<text x="452.1" y="67.7">Six Operators</text>
<text x="452.1" y="86.5">Eight Operators</text>
</g>
</svg>
</body></html>
